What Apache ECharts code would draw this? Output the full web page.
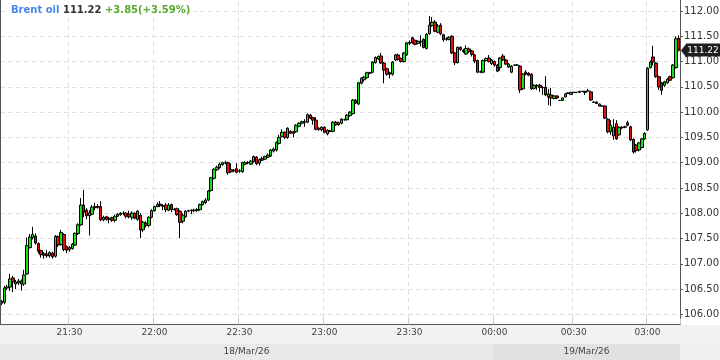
<!DOCTYPE html>
<html><head><meta charset="utf-8">
<script src="https://cdn.jsdelivr.net/npm/echarts@6/dist/echarts.min.js"></script>
<style>html,body{margin:0;padding:0;background:#fff}#c{width:720px;height:360px}</style>
</head><body><div id="c"></div>
<script>
// ---------------- data ----------------
const instrument = 'Brent oil';
const previousClose = 107.37;
const timeRanges = [['21:06','00:12'],['00:14','00:21'],['00:23','00:55'],['03:00','03:11']];
const tickLabels = ['21:30','22:00','22:30','23:00','23:30','00:00','00:30','03:00'];
const dateBands = [
  {label:'18/Mar/26', from:'21:06', to:'23:59'},
  {label:'19/Mar/26', from:'00:00', to:'03:11'}
];
const opens = [
106.26,106.24,106.52,106.54,106.72,106.60,106.62,106.66,106.60,106.80,
107.32,107.52,107.55,107.40,107.26,107.20,107.19,107.16,107.21,107.15,
107.54,107.38,107.58,107.34,107.28,107.30,107.37,107.60,107.77,108.16,
108.06,107.95,107.98,108.11,108.13,108.13,107.87,107.93,107.90,107.91,
107.86,107.94,107.97,108.00,108.00,107.98,107.92,108.00,107.88,107.96,
107.67,107.80,107.76,107.92,108.05,108.13,108.18,108.15,108.16,108.06,
108.17,108.07,108.09,108.04,107.84,107.93,108.04,108.05,108.06,108.05,
108.07,108.17,108.21,108.26,108.45,108.69,108.86,108.90,108.96,108.99,
109.00,108.86,108.84,108.88,108.83,108.82,108.97,109.00,108.97,109.02,
109.11,108.99,109.08,109.07,109.11,109.13,109.23,109.25,109.38,109.52,
109.60,109.50,109.62,109.58,109.61,109.72,109.78,109.81,109.80,109.94,
109.89,109.84,109.68,109.65,109.70,109.57,109.63,109.62,109.80,109.75,
109.78,109.85,109.85,109.93,109.97,110.23,110.16,110.57,110.64,110.68,
110.78,110.79,110.98,111.05,111.11,110.97,110.86,110.78,110.75,111.03,
111.13,111.06,111.00,111.13,111.36,111.47,111.42,111.36,111.40,111.44,
111.26,111.55,111.71,111.78,111.58,111.72,111.53,111.44,111.44,111.50,
111.17,110.98,111.28,111.22,111.15,111.25,111.21,111.13,111.02,110.80,
110.79,111.02,111.07,110.96,111.00,110.93,110.88,111.11,111.03,110.89,
110.79,110.93,110.93,110.91,110.46,110.79,110.77,110.75,110.47,110.52,
110.53,110.49,110.49,110.30,110.34,110.27,110.32,110.23,110.23,110.30,
110.37,110.35,110.39,110.39,110.39,110.41,110.41,110.42,110.40,110.20,
110.20,110.12,110.12,110.12,109.86,109.61,109.53,109.77,109.55,109.70,
109.70,109.79,109.71,109.46,109.35,109.25,109.30,109.47,109.65,110.88,
111.09,110.97,110.70,110.58,110.53,110.58,110.70,110.68,110.88,111.46
];
const closes = [
106.22,106.52,106.54,106.70,106.64,106.64,106.66,106.60,106.78,107.36,
107.53,107.58,107.41,107.25,107.18,107.17,107.16,107.22,107.14,107.54,
107.37,107.62,107.28,107.27,107.32,107.39,107.60,107.77,108.16,108.02,
107.95,108.01,108.12,108.13,108.12,107.87,107.92,107.88,107.88,107.86,
107.94,107.98,108.00,108.00,107.94,107.93,108.00,107.90,108.04,107.67,
107.82,107.76,107.92,108.05,108.13,108.17,108.15,108.14,108.07,108.16,
108.07,108.08,107.97,107.82,107.96,108.04,108.05,108.06,108.05,108.07,
108.17,108.23,108.26,108.44,108.70,108.87,108.91,108.97,109.00,109.00,
108.80,108.82,108.85,108.81,108.84,109.00,109.00,109.00,109.03,109.12,
108.98,109.06,109.05,109.12,109.15,109.25,109.27,109.40,109.50,109.60,
109.50,109.68,109.58,109.61,109.74,109.78,109.81,109.80,109.95,109.88,
109.84,109.66,109.66,109.70,109.60,109.64,109.62,109.80,109.75,109.79,
109.86,109.85,109.94,110.00,110.24,110.18,110.58,110.67,110.69,110.78,
110.77,110.99,111.08,111.10,110.97,110.83,110.75,110.75,110.99,111.13,
111.04,111.00,111.17,111.37,111.38,111.37,111.34,111.40,111.39,111.28,
111.54,111.72,111.78,111.60,111.70,111.55,111.43,111.45,111.48,111.17,
110.98,111.28,111.24,111.20,111.26,111.20,111.14,111.01,110.79,110.79,
111.02,111.06,111.00,111.03,110.93,110.81,111.07,111.03,110.95,110.95,
110.91,110.93,110.93,110.44,110.75,110.75,110.73,110.46,110.53,110.53,
110.49,110.48,110.34,110.36,110.28,110.32,110.28,110.23,110.28,110.36,
110.38,110.39,110.39,110.39,110.41,110.41,110.39,110.42,110.24,110.19,
110.17,110.16,110.12,109.88,109.61,109.74,109.70,109.47,109.70,109.69,
109.71,109.74,109.45,109.21,109.24,109.39,109.47,109.58,110.87,110.99,
110.99,110.70,110.50,110.43,110.60,110.65,110.63,110.93,111.45,111.22
];
const lows = [
106.18,106.20,106.48,106.46,106.44,106.50,106.58,106.47,106.56,106.78,
107.30,107.48,107.38,107.20,107.12,107.10,107.12,107.12,107.10,107.12,
107.33,107.36,107.25,107.21,107.24,107.28,107.35,107.57,107.75,107.92,
107.88,107.56,107.96,108.06,108.09,107.84,107.84,107.85,107.80,107.83,
107.82,107.92,107.95,107.96,107.90,107.90,107.87,107.88,107.85,107.51,
107.63,107.72,107.72,107.90,108.03,108.12,108.12,108.06,108.02,108.04,
108.02,108.05,107.95,107.51,107.80,107.91,108.02,107.98,108.02,108.03,
108.05,108.15,108.18,108.24,108.43,108.67,108.84,108.88,108.94,108.97,
108.76,108.80,108.81,108.79,108.80,108.80,108.95,108.97,108.95,109.00,
108.95,108.94,109.03,109.05,109.09,109.11,109.20,109.22,109.36,109.50,
109.47,109.47,109.57,109.50,109.59,109.70,109.76,109.71,109.78,109.86,
109.75,109.64,109.63,109.62,109.58,109.54,109.60,109.60,109.73,109.73,
109.76,109.83,109.83,109.91,109.95,110.16,110.14,110.55,110.60,110.66,
110.75,110.77,110.96,111.03,110.95,110.57,110.72,110.67,110.72,111.01,
111.02,110.98,110.98,111.11,111.33,111.35,111.32,111.34,111.30,111.26,
111.24,111.53,111.69,111.58,111.56,111.52,111.39,111.41,111.42,111.15,
110.93,110.96,111.21,111.17,111.13,111.17,111.10,110.97,110.77,110.77,
110.77,111.00,110.98,110.93,110.90,110.79,110.82,111.01,110.93,110.87,
110.77,110.92,110.92,110.38,110.44,110.73,110.71,110.44,110.45,110.44,
110.40,110.34,110.32,110.14,110.12,110.25,110.26,110.22,110.22,110.29,
110.36,110.34,110.38,110.38,110.38,110.40,110.34,110.41,110.22,110.18,
110.16,110.11,110.11,109.86,109.58,109.55,109.45,109.45,109.53,109.66,
109.68,109.72,109.43,109.18,109.20,109.22,109.28,109.45,109.63,110.86,
110.92,110.68,110.44,110.34,110.50,110.56,110.61,110.66,110.86,111.20
];
const highs = [
106.28,106.56,106.58,106.80,106.76,106.68,106.70,106.69,106.88,107.52,
107.59,107.73,107.60,107.42,107.28,107.23,107.27,107.25,107.24,107.57,
107.56,107.67,107.60,107.36,107.35,107.41,107.62,107.80,108.30,108.46,
108.10,108.06,108.16,108.21,108.18,108.24,107.95,107.95,107.93,107.93,
107.97,108.00,108.02,108.04,108.02,108.05,108.04,108.02,108.06,108.00,
107.85,107.84,107.94,108.08,108.15,108.22,108.24,108.18,108.20,108.20,
108.19,108.10,108.11,108.06,108.00,108.06,108.07,108.08,108.09,108.10,
108.19,108.25,108.30,108.46,108.72,108.89,108.94,109.00,109.02,109.04,
109.02,108.99,108.87,108.99,108.87,109.02,109.03,109.03,109.05,109.14,
109.13,109.08,109.12,109.14,109.18,109.27,109.30,109.42,109.55,109.66,
109.62,109.70,109.64,109.63,109.76,109.80,109.83,109.86,109.97,109.96,
109.91,109.90,109.70,109.72,109.72,109.66,109.65,109.82,109.82,109.81,
109.88,109.87,109.96,110.02,110.26,110.26,110.60,110.69,110.72,110.80,
110.80,111.01,111.10,111.12,111.17,110.99,110.88,110.80,111.01,111.15,
111.16,111.08,111.19,111.39,111.42,111.49,111.44,111.42,111.52,111.46,
111.56,111.90,111.88,111.82,111.74,111.76,111.55,111.48,111.50,111.52,
111.19,111.30,111.30,111.25,111.32,111.28,111.23,111.15,111.04,110.82,
111.04,111.08,111.13,111.05,111.02,110.95,111.09,111.15,111.05,110.97,
110.93,110.94,110.95,110.93,110.77,110.83,110.79,110.77,110.55,110.55,
110.56,110.51,110.71,110.46,110.48,110.34,110.33,110.24,110.29,110.37,
110.39,110.40,110.40,110.40,110.42,110.42,110.42,110.46,110.42,110.21,
110.21,110.17,110.13,110.13,109.88,109.84,109.86,109.84,109.72,109.72,
109.73,109.83,109.73,109.48,109.37,109.41,109.49,109.60,110.89,111.02,
111.31,110.99,110.72,110.60,110.62,110.67,110.72,110.95,111.50,111.52
];

// ---------------- build ----------------
function pad(n){return (n<10?'0':'')+n;}
function expand(a,b){
  let [h,m]=a.split(':').map(Number); const [h2,m2]=b.split(':').map(Number);
  const out=[];
  while(true){ out.push(pad(h)+':'+pad(m)); if(h===h2&&m===m2)break; m++; if(m===60){m=0;h=(h+1)%24;} }
  return out;
}
const categories = [].concat(...timeRanges.map(r=>expand(r[0],r[1])));
const ohlc = opens.map((o,i)=>[o, closes[i], lows[i], highs[i]]);
const tickSet = new Set(tickLabels);
const isTick = (idx, val) => tickSet.has(val);
const lastClose = closes[closes.length-1];
const chg = lastClose - previousClose;
const chgPct = chg / previousClose * 100;
const FONT = 'DejaVu Sans';

const chart = echarts.init(document.getElementById('c'), null, {renderer:'canvas'});
const option = {
  animation:false,
  backgroundColor:'#ffffff',
  grid:{left:0, right:40, top:-14.28, bottom:20.4, containLabel:false, outerBoundsMode:'none'},
  xAxis:[{
    type:'category', data:categories, boundaryGap:true, z:200,
    offset:-15.1,
    axisLine:{onZero:false, lineStyle:{color:'#555', width:1}},
    axisTick:{show:true, inside:true, length:6, interval:isTick, lineStyle:{color:'#c8c8c8'}},
    axisLabel:{interval:isTick, fontSize:9, fontFamily:FONT, color:'#444', margin:4},
    splitLine:{show:false}
  },{
    type:'category', data:categories, boundaryGap:true, position:'top', z:0,
    axisLine:{show:false}, axisTick:{show:false}, axisLabel:{show:false},
    splitLine:{show:true, interval:isTick, lineStyle:{color:'#e0e0e0', type:[5,3], width:1}}
  }],
  yAxis:{
    type:'value', position:'right', min:105.5, max:112.5, interval:0.5, scale:true,
    axisLine:{show:true, lineStyle:{color:'#555', width:1}},
    axisTick:{show:true, length:3, lineStyle:{color:'#555'}},
    axisLabel:{fontSize:10, fontFamily:FONT, color:'#333', margin:4, formatter:v=>v.toFixed(2)},
    splitLine:{show:true, lineStyle:{color:'#e0e0e0', type:[5,3], width:1}}
  },
  series:[{
    type:'candlestick', data:ohlc, xAxisIndex:0, barWidth:3,
    itemStyle:{color:'#19e019', color0:'#e01010', borderColor:'#000', borderColor0:'#000', borderColorDoji:'#000', borderWidth:1}
  }]
};
chart.setOption(option);

// decorations derived from the axes
const cx = v => chart.convertToPixel({xAxisIndex:0}, v);
const bw = cx(categories[1]) - cx(categories[0]);
const leftEdge = v => cx(v) - bw/2;
const rightEdge = v => cx(v) + bw/2;
const tagY = chart.convertToPixel({yAxisIndex:0}, lastClose);
const graphics = [
  {type:'rect', z:100, silent:true, shape:{x:0,y:325,width:720,height:35}, style:{fill:'#f1f2f3'}},
  {type:'rect', z:100, silent:true, shape:{x:680,y:344,width:40,height:16}, style:{fill:'#eeeff0'}}
];
const bandFills = ['#e8e9eb','#e1e2e4'];
dateBands.forEach((b,k)=>{
  const x0 = Math.round(leftEdge(b.from)), x1 = Math.round(rightEdge(b.to));
  graphics.push({type:'rect', z:101, silent:true, shape:{x:x0,y:344,width:x1-x0,height:16}, style:{fill:bandFills[k]}});
  graphics.push({type:'text', z:102, silent:true, x:(x0+x1)/2, y:352,
    style:{text:b.label, fill:'#444', font:'9px '+FONT, align:'center', verticalAlign:'middle'}});
});
graphics.push({type:'line', z:150, silent:true, shape:{x1:0.5,y1:0,x2:0.5,y2:325}, style:{stroke:'#555', lineWidth:1}});
// last-price tag on the right axis
graphics.push({type:'polygon', z:150, silent:true,
  shape:{points:[[681,tagY],[686,tagY-6.5],[686,tagY+6.5]]}, style:{fill:'#1e1e1e'}});
graphics.push({type:'rect', z:150, silent:true,
  shape:{x:686,y:Math.round(tagY)-6.5,width:34,height:13}, style:{fill:'#1e1e1e'}});
graphics.push({type:'text', z:151, silent:true, x:703, y:tagY+0.5,
  style:{text:lastClose.toFixed(2), fill:'#fff', font:'9px '+FONT, align:'center', verticalAlign:'middle'}});
// header
graphics.push({type:'text', z:150, silent:true, x:8, y:3,
  style:{
    text:'{a|'+instrument+'} {b|'+lastClose.toFixed(2)+'} {c|'+(chg>=0?'+':'')+chg.toFixed(2)+'('+(chgPct>=0?'+':'')+chgPct.toFixed(2)+'%)}',
    backgroundColor:'#fff', padding:[2,3,2,3],
    rich:{
      a:{fill:'#4a86e8', fontSize:10, fontWeight:'bold', fontFamily:FONT},
      b:{fill:'#333', fontSize:10, fontWeight:'bold', fontFamily:FONT},
      c:{fill:'#58a82e', fontSize:10, fontWeight:'bold', fontFamily:FONT}
    },
    font:'bold 10px '+FONT
  }});
chart.setOption({graphic:{elements:graphics}});
</script>
</body></html>
